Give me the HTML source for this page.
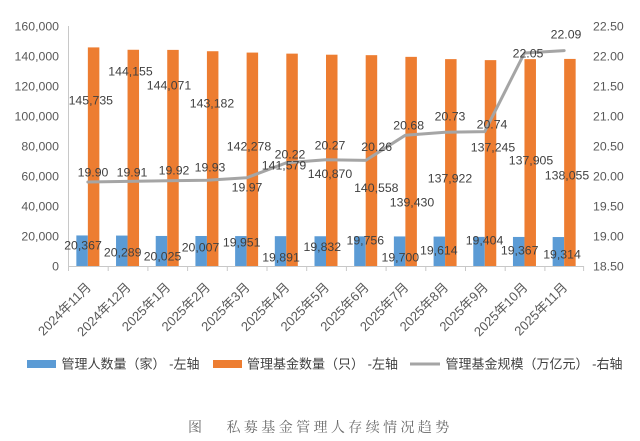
<!DOCTYPE html>
<html>
<head>
<meta charset="utf-8">
<style>
html,body{margin:0;padding:0;background:#fff;}
svg{display:block;}
text{font-family:"Liberation Sans","Noto Sans CJK SC",sans-serif;}
.ax{font-size:12.3px;fill:#595959;}
.dl{font-size:12.3px;fill:#404040;text-anchor:middle;}
.xl{font-size:13px;fill:#595959;text-anchor:end;}
.lg{font-size:13px;fill:#404040;}
.cap{font-family:"Liberation Serif","Noto Serif CJK SC",serif;font-size:14px;fill:#6a6a6a;letter-spacing:3.4px;}
</style>
</head>
<body>
<svg width="640" height="441" viewBox="0 0 640 441" xmlns="http://www.w3.org/2000/svg">
<rect width="640" height="441" fill="#fff"/>

<!-- left axis labels -->
<g class="ax" text-anchor="end">
<text x="59" y="30.5">160,000</text>
<text x="59" y="60.5">140,000</text>
<text x="59" y="90.5">120,000</text>
<text x="59" y="120.5">100,000</text>
<text x="59" y="150.5">80,000</text>
<text x="59" y="180.5">60,000</text>
<text x="59" y="210.5">40,000</text>
<text x="59" y="240.5">20,000</text>
<text x="59" y="270.5">0</text>
</g>
<!-- right axis labels -->
<g class="ax" text-anchor="start">
<text x="593" y="30.5">22.50</text>
<text x="593" y="60.5">22.00</text>
<text x="593" y="90.5">21.50</text>
<text x="593" y="120.5">21.00</text>
<text x="593" y="150.5">20.50</text>
<text x="593" y="180.5">20.00</text>
<text x="593" y="210.5">19.50</text>
<text x="593" y="240.5">19.00</text>
<text x="593" y="270.5">18.50</text>
</g>

<!-- axes -->
<line x1="68.5" y1="26" x2="68.5" y2="266" stroke="#C8C8C8" stroke-width="1"/>
<line x1="68" y1="266.5" x2="584" y2="266.5" stroke="#C8C8C8" stroke-width="1"/>
<g stroke="#C8C8C8" stroke-width="1">
<line x1="68.5" y1="266" x2="68.5" y2="271"/>
<line x1="108.2" y1="266" x2="108.2" y2="271"/>
<line x1="147.9" y1="266" x2="147.9" y2="271"/>
<line x1="187.6" y1="266" x2="187.6" y2="271"/>
<line x1="227.3" y1="266" x2="227.3" y2="271"/>
<line x1="267.0" y1="266" x2="267.0" y2="271"/>
<line x1="306.7" y1="266" x2="306.7" y2="271"/>
<line x1="346.4" y1="266" x2="346.4" y2="271"/>
<line x1="386.1" y1="266" x2="386.1" y2="271"/>
<line x1="425.8" y1="266" x2="425.8" y2="271"/>
<line x1="465.5" y1="266" x2="465.5" y2="271"/>
<line x1="505.2" y1="266" x2="505.2" y2="271"/>
<line x1="544.9" y1="266" x2="544.9" y2="271"/>
<line x1="583.6" y1="266" x2="583.6" y2="271"/>
</g>

<!-- blue bars -->
<g fill="#5B9BD5">
<rect x="76.35" y="235.45" width="11.5" height="30.55"/>
<rect x="116.04" y="235.57" width="11.5" height="30.43"/>
<rect x="155.73" y="235.96" width="11.5" height="30.04"/>
<rect x="195.42" y="235.99" width="11.5" height="30.01"/>
<rect x="235.12" y="236.07" width="11.5" height="29.93"/>
<rect x="274.81" y="236.16" width="11.5" height="29.84"/>
<rect x="314.5" y="236.25" width="11.5" height="29.75"/>
<rect x="354.19" y="236.37" width="11.5" height="29.63"/>
<rect x="393.88" y="236.45" width="11.5" height="29.55"/>
<rect x="433.58" y="236.58" width="11.5" height="29.42"/>
<rect x="473.27" y="236.89" width="11.5" height="29.11"/>
<rect x="512.96" y="236.95" width="11.5" height="29.05"/>
<rect x="552.65" y="237.03" width="11.5" height="28.97"/>
</g>
<!-- orange bars -->
<g fill="#ED7D31">
<rect x="87.85" y="47.4" width="11.5" height="218.6"/>
<rect x="127.54" y="49.77" width="11.5" height="216.23"/>
<rect x="167.23" y="49.89" width="11.5" height="216.11"/>
<rect x="206.92" y="51.23" width="11.5" height="214.77"/>
<rect x="246.62" y="52.58" width="11.5" height="213.42"/>
<rect x="286.31" y="53.63" width="11.5" height="212.37"/>
<rect x="326.0" y="54.7" width="11.5" height="211.3"/>
<rect x="365.69" y="55.16" width="11.5" height="210.84"/>
<rect x="405.38" y="56.86" width="11.5" height="209.14"/>
<rect x="445.08" y="59.12" width="11.5" height="206.88"/>
<rect x="484.77" y="60.13" width="11.5" height="205.87"/>
<rect x="524.46" y="59.14" width="11.5" height="206.86"/>
<rect x="564.15" y="58.92" width="11.5" height="207.08"/>
</g>

<!-- line -->
<polyline fill="none" stroke="#A5A5A5" stroke-width="3" stroke-linejoin="round" stroke-linecap="round"
points="87.85,182 127.54,181.4 167.23,180.8 206.92,180.2 246.62,177.8 286.31,162.8 326.0,159.8 365.69,160.4 405.38,135.2 445.08,132.2 484.77,131.6 524.46,53 564.15,50.6"/>

<!-- orange labels -->
<g class="dl">
<text x="90.8" y="104.5">145,735</text>
<text x="130.5" y="75.5">144,155</text>
<text x="169" y="89.5">144,071</text>
<text x="212" y="107.5">143,182</text>
<text x="249" y="150.5">142,278</text>
<text x="284" y="169.5">141,579</text>
<text x="330" y="178">140,870</text>
<text x="376.3" y="192">140,558</text>
<text x="412" y="206.5">139,430</text>
<text x="450" y="182.5">137,922</text>
<text x="493" y="151.5">137,245</text>
<text x="531" y="164.5">137,905</text>
<text x="567" y="179.5">138,055</text>
</g>
<!-- line labels -->
<g class="dl">
<text x="93" y="176.5">19.90</text>
<text x="132" y="176.5">19.91</text>
<text x="174" y="174.5">19.92</text>
<text x="210" y="171.5">19.93</text>
<text x="247" y="191.5">19.97</text>
<text x="290" y="158.5">20.22</text>
<text x="330" y="149.5">20.27</text>
<text x="376.7" y="151">20.26</text>
<text x="408.7" y="129.5">20.68</text>
<text x="450" y="120.5">20.73</text>
<text x="492" y="128.5">20.74</text>
<text x="528" y="57.5">22.05</text>
<text x="566" y="38.5">22.09</text>
</g>
<!-- blue labels -->
<g class="dl">
<text x="83" y="249.5">20,367</text>
<text x="122.7" y="256.5">20,289</text>
<text x="162.5" y="260.5">20,025</text>
<text x="200.5" y="251.5">20,007</text>
<text x="241.7" y="246.5">19,951</text>
<text x="281" y="261.5">19,891</text>
<text x="322.3" y="251">19,832</text>
<text x="365.3" y="244.5">19,756</text>
<text x="400.3" y="261.5">19,700</text>
<text x="438.8" y="254.5">19,614</text>
<text x="484.5" y="244.5">19,404</text>
<text x="519.7" y="254.5">19,367</text>
<text x="562" y="258.5">19,314</text>
</g>

<!-- x labels -->
<g class="xl">
<text transform="translate(91.85,288) rotate(-45)">2024年11月</text>
<text transform="translate(131.54,288) rotate(-45)">2024年12月</text>
<text transform="translate(171.23,288) rotate(-45)">2025年1月</text>
<text transform="translate(210.92,288) rotate(-45)">2025年2月</text>
<text transform="translate(250.62,288) rotate(-45)">2025年3月</text>
<text transform="translate(290.31,288) rotate(-45)">2025年4月</text>
<text transform="translate(330.0,288) rotate(-45)">2025年5月</text>
<text transform="translate(369.69,288) rotate(-45)">2025年6月</text>
<text transform="translate(409.38,288) rotate(-45)">2025年7月</text>
<text transform="translate(449.08,288) rotate(-45)">2025年8月</text>
<text transform="translate(488.77,288) rotate(-45)">2025年9月</text>
<text transform="translate(528.46,288) rotate(-45)">2025年10月</text>
<text transform="translate(568.15,288) rotate(-45)">2025年11月</text>
</g>

<!-- legend -->
<rect x="27" y="360" width="29" height="8" fill="#5B9BD5"/>
<text class="lg" x="61.5" y="368.5">管理人数量（家） -左轴</text>
<rect x="213" y="360" width="29" height="8" fill="#ED7D31"/>
<text class="lg" x="247" y="368.5">管理基金数量（只） -左轴</text>
<line x1="410" y1="364" x2="440" y2="364" stroke="#A5A5A5" stroke-width="3"/>
<text class="lg" x="445.5" y="368.5">管理基金规模（万亿元） -右轴</text>

<!-- caption -->
<text class="cap" x="188" y="432">图</text>
<text class="cap" x="226.5" y="432">私募基金管理人存续情况趋势</text>
</svg>
</body>
</html>
